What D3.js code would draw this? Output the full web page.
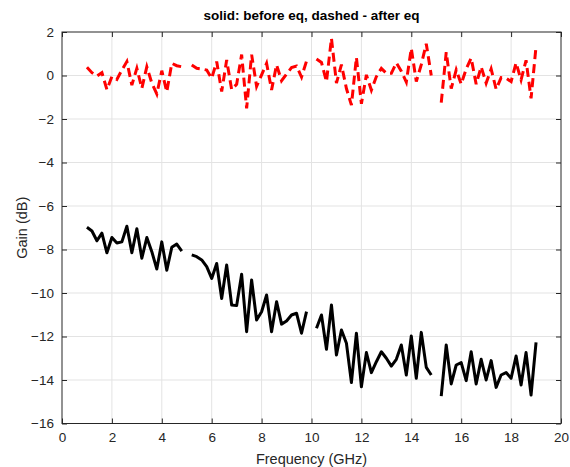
<!DOCTYPE html>
<html>
<head>
<meta charset="utf-8">
<script src="https://cdn.jsdelivr.net/npm/d3@7"></script>
<style>
  body { margin: 0; background: #fff; }
  svg { display: block; font-family: "Liberation Sans", Arial, sans-serif; }
</style>
</head>
<body>
<div class="chart"></div>
<script>
// frequency grid (GHz), gaps at 5, 10, 15
var freq = [1.0, 1.2, 1.4, 1.6, 1.8, 2.0, 2.2, 2.4, 2.6, 2.8, 3.0, 3.2, 3.4, 3.6, 3.8, 4.0, 4.2, 4.4, 4.6, 4.8,
            5.0, 5.2, 5.4, 5.6, 5.8, 6.0, 6.2, 6.4, 6.6, 6.8, 7.0, 7.2, 7.4, 7.6, 7.8, 8.0, 8.2, 8.4, 8.6, 8.8,
            9.0, 9.2, 9.4, 9.6, 9.8, 10.0, 10.2, 10.4, 10.6, 10.8, 11.0, 11.2, 11.4, 11.6, 11.8, 12.0, 12.2, 12.4,
            12.6, 12.8, 13.0, 13.2, 13.4, 13.6, 13.8, 14.0, 14.2, 14.4, 14.6, 14.8, 15.0, 15.2, 15.4, 15.6, 15.8,
            16.0, 16.2, 16.4, 16.6, 16.8, 17.0, 17.2, 17.4, 17.6, 17.8, 18.0, 18.2, 18.4, 18.6, 18.8, 19.0];

// solid: before eq
var beforeEq = [-6.98, -7.15, -7.6, -7.25, -8.15, -7.45, -7.7, -7.65, -6.93, -8.15, -7.05, -8.4, -7.45, -8.1, -8.9, -7.65, -8.95, -7.9, -7.75, -8.07,
                null,
                -8.25, -8.33, -8.48, -8.79, -9.33, -8.64, -10.25, -8.71, -10.55, -10.58, -9.14, -11.78, -9.40, -11.24, -10.86, -10.09, -11.78, -10.40, -11.43, -11.29, -11.01, -10.93, -11.85, -10.86,
                null,
                -11.62, -11.01, -12.59, -10.55, -12.85, -11.70, -12.31, -14.12, -11.85, -14.31, -12.74, -13.66, -13.16, -12.70, -13.00, -13.36, -13.05, -12.39, -13.77, -11.98, -13.92, -11.81, -13.42, -13.77,
                null,
                -14.74, -12.39, -14.18, -13.31, -13.20, -14.03, -12.70, -14.18, -13.05, -14.00, -13.11, -14.34, -13.77, -13.66, -13.92, -12.90, -14.23, -12.74, -14.69, -12.27];

// dashed: after eq
var afterEq = [0.38, 0.13, -0.03, 0.13, -0.65, -0.05, -0.18, 0.25, 0.64, -0.44, 0.33, -0.59, 0.40, -0.35, -0.85, 0.22, -0.75, 0.56, 0.45, 0.40,
               null,
               0.48, 0.33, 0.30, 0.25, -0.13, 0.64, -0.74, 0.71, -0.65, -0.40, 0.96, -1.51, 0.96, -0.50, 0.03, 0.56, -0.66, 0.49, -0.24, 0.07, 0.36, 0.43, -0.07, 0.66,
               null,
               0.76, 0.60, -0.28, 1.71, -0.35, 0.50, -0.60, -1.36, 0.83, -1.30, 0.03, -0.67, -0.05, 0.33, 0.10, 0.10, 0.58, 0.20, -0.30, 1.25, -0.28, 0.50, 1.46, 0.00,
               null,
               -1.25, 1.07, -0.60, 0.26, -0.40, 0.30, 0.80, -0.40, 0.40, -0.35, 0.30, -0.63, -0.10, -0.13, -0.28, 0.58, -0.20, 0.70, -1.05, 1.34];

var xTicks = [0, 2, 4, 6, 8, 10, 12, 14, 16, 18, 20];
var yTicks = [-16, -14, -12, -10, -8, -6, -4, -2, 0, 2];

var width = 570, height = 467;
var margin = {top: 32, right: 9, bottom: 43.5, left: 62};
var w = width - margin.left - margin.right,
    h = height - margin.top - margin.bottom;

var svg = d3.select(".chart")
            .append("svg")
            .attr("width", width)
            .attr("height", height)

var g = svg.append("g")
           .attr("transform", "translate(" + margin.left + "," + margin.top + ")")

var x = d3.scaleLinear().domain([0, 20]).range([0, w])
var y = d3.scaleLinear().domain([-16, 2]).range([h, 0])

// grid
g.append("g").selectAll("line")
  .data(xTicks.slice(1, -1))
  .enter().append("line")
  .attr("x1", d => x(d)).attr("x2", d => x(d))
  .attr("y1", 0).attr("y2", h)
  .style("stroke", "#e3e3e3").style("stroke-width", 1)

g.append("g").selectAll("line")
  .data(yTicks.slice(1, -1))
  .enter().append("line")
  .attr("y1", d => y(d)).attr("y2", d => y(d))
  .attr("x1", 0).attr("x2", w)
  .style("stroke", "#e3e3e3").style("stroke-width", 1)

// axes, ticks inward on all four sides
var axisColor = "#262626";
function styleAxis(sel) {
  sel.selectAll(".domain").remove();
  sel.selectAll("line").style("stroke", axisColor);
  sel.selectAll("text").style("fill", axisColor).style("font-size", "13.5px");
}

g.append("g").attr("transform", "translate(0," + h + ")")
  .call(d3.axisBottom(x).tickValues(xTicks).tickSizeInner(-5).tickSizeOuter(0).tickPadding(9).tickFormat(d3.format("d")))
  .call(styleAxis)
g.append("g")
  .call(d3.axisLeft(y).tickValues(yTicks).tickSizeInner(-5).tickSizeOuter(0).tickPadding(8).tickFormat(d3.format("d")))
  .call(styleAxis)
g.append("g")
  .call(d3.axisTop(x).tickValues(xTicks).tickSizeInner(-5).tickSizeOuter(0).tickFormat(""))
  .call(styleAxis)
g.append("g").attr("transform", "translate(" + w + ",0)")
  .call(d3.axisRight(y).tickValues(yTicks).tickSizeInner(-5).tickSizeOuter(0).tickFormat(""))
  .call(styleAxis)

// box
g.append("rect")
  .attr("x", 0).attr("y", 0).attr("width", w).attr("height", h)
  .style("fill", "none").style("stroke", axisColor).style("stroke-width", 1)

// lines
var line = d3.line()
  .defined(d => d[1] != null)
  .x(d => x(d[0]))
  .y(d => y(d[1]))

g.append("path")
  .datum(freq.map((f, i) => [f, beforeEq[i]]))
  .attr("d", line)
  .style("fill", "none")
  .style("stroke", "#000")
  .style("stroke-width", 3)
  .style("stroke-linejoin", "round")

g.append("path")
  .datum(freq.map((f, i) => [f, afterEq[i]]))
  .attr("d", line)
  .style("fill", "none")
  .style("stroke", "#ff0000")
  .style("stroke-width", 3)
  .style("stroke-dasharray", "9,5")

// labels
svg.append("text")
  .attr("x", margin.left + w / 2)
  .attr("y", 20)
  .attr("text-anchor", "middle")
  .style("font-size", "13.5px")
  .style("font-weight", "bold")
  .style("fill", "#000")
  .text("solid: before eq, dashed - after eq")

svg.append("text")
  .attr("x", margin.left + w / 2)
  .attr("y", 464)
  .attr("text-anchor", "middle")
  .style("font-size", "14.5px")
  .style("fill", axisColor)
  .text("Frequency (GHz)")

svg.append("text")
  .attr("transform", "translate(27," + (margin.top + h / 2) + ") rotate(-90)")
  .attr("text-anchor", "middle")
  .style("font-size", "14.5px")
  .style("fill", axisColor)
  .text("Gain (dB)")
</script>
</body>
</html>
